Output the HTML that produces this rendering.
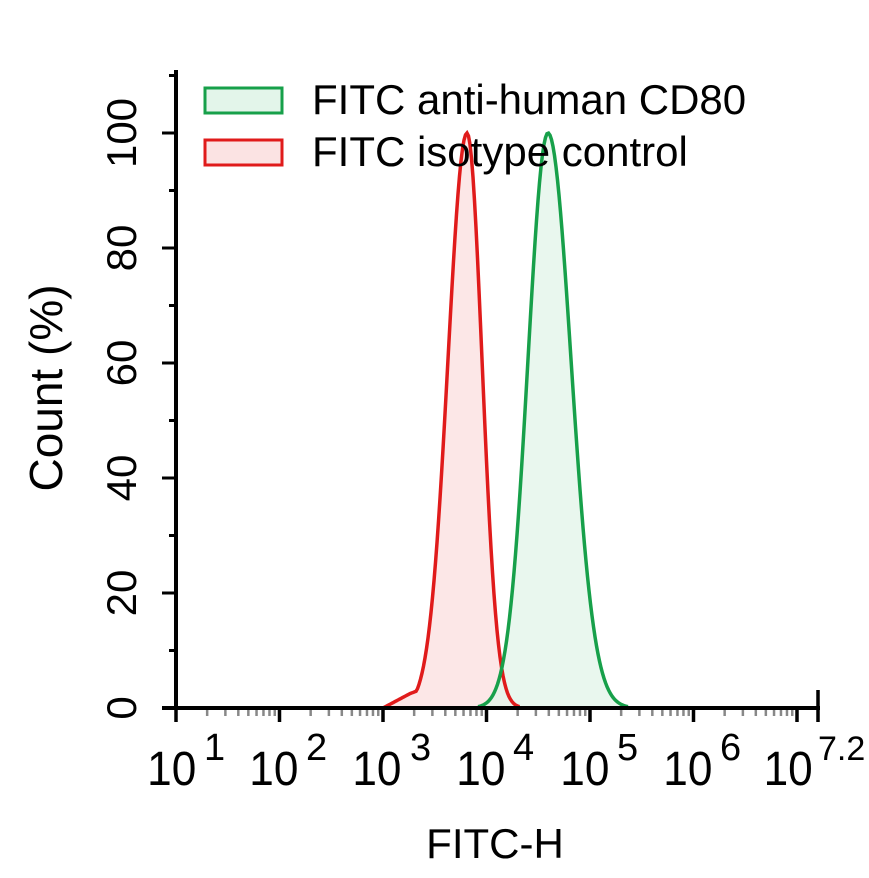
<!DOCTYPE html><html><head><style>body{margin:0;background:#fff}svg{display:block}text{font-family:"Liberation Sans",Arial,sans-serif;fill:#000}</style></head><body>
<svg id="s" width="869" height="878" xmlns="http://www.w3.org/2000/svg">
<g id="g"></g>
<path id="rf" fill="#fbe3e3" fill-opacity="0.85" stroke="none"/>
<path id="gf" fill="#e3f5ea" fill-opacity="0.8" stroke="none"/>
<path id="rl" fill="none" stroke="#e01b1b" stroke-width="3.5"/>
<path id="gl" fill="none" stroke="#17a04a" stroke-width="3.5"/>
<line x1="176" y1="70" x2="176" y2="710" stroke="#000" stroke-width="4"/>
<line x1="162" y1="708" x2="820" y2="708" stroke="#000" stroke-width="4"/>
<g font-size="42" text-anchor="middle">
<text transform="translate(136,133) rotate(-90)">100</text>
<text transform="translate(136,248) rotate(-90)">80</text>
<text transform="translate(136,363) rotate(-90)">60</text>
<text transform="translate(136,478) rotate(-90)">40</text>
<text transform="translate(136,593) rotate(-90)">20</text>
<text transform="translate(136,708) rotate(-90)">0</text>
<text transform="translate(62,388) rotate(-90)" font-size="46">Count  (%)</text>
<text x="495" y="858" font-size="42">FITC-H</text>
</g>
<g font-size="48" transform="translate(0,0)">
<g transform="scale(0.92,1)">
<text x="160" y="785">10</text><text x="271" y="785">10</text><text x="383" y="785">10</text><text x="496" y="785">10</text><text x="609" y="785">10</text><text x="721" y="785">10</text><text x="830" y="785">10</text>
</g>
<g font-size="38">
<text x="204" y="760">1</text><text x="306" y="760">2</text><text x="410" y="760">3</text><text x="513" y="760">4</text><text x="617" y="760">5</text><text x="720" y="760">6</text><text x="818" y="760" font-size="34">7.2</text>
</g>
</g>
<rect x="205" y="88" width="77" height="25" fill="#e3f5ea" stroke="#17a04a" stroke-width="3"/>
<rect x="205" y="140" width="77" height="25" fill="#fbe3e3" stroke="#e01b1b" stroke-width="3"/>
<g font-size="42"><text x="312" y="114">FITC anti-human CD80</text><text x="312" y="166">FITC isotype control</text></g>
</svg>
<script>
var g=document.getElementById('g'),h='';
function L(x1,y1,x2,y2,c,w){h+='<line x1="'+x1+'" y1="'+y1+'" x2="'+x2+'" y2="'+y2+'" stroke="'+c+'" stroke-width="'+w+'"/>';}
var d=103.5;
for(var i=0;i<=6;i++){var x=176+i*d;L(x,708,x,722,'#000',3.5);
 if(i<6)for(var k=2;k<10;k++){var xx=x+Math.log10(k)*d;L(xx,710,xx,716,'#888',2.5);}}
L(818,690,818,722,'#000',3.5);
for(var v=0;v<=110;v+=10){var y=708-v*5.75;L(v%20==0?162:169,y,176,y,'#000',3);}
g.innerHTML=h;
function curve(c,s1,s2,x0,x1,sh){var p=[];for(var x=x0;x<=x1;x+=1.5){var s=x<c?s1:s2;var v=100*Math.exp(-Math.pow(x-c,2)/(2*s*s));if(sh)v=Math.max(v,sh(x));p.push([x,708-v*5.75]);}return p;}
var r=curve(467,19,15,383,520,function(x){return x<410?(x-383)/27*2.5:(x<425?2.5+(x-410)/15*1:0);});
var gr=curve(548,20,23,478,628);
function P(p){return 'M'+p.map(function(a){return a[0].toFixed(1)+','+Math.min(708,a[1]).toFixed(1)}).join('L');}
document.getElementById('rl').setAttribute('d',P(r));
document.getElementById('gl').setAttribute('d',P(gr));
document.getElementById('rf').setAttribute('d',P(r)+'Z');
document.getElementById('gf').setAttribute('d',P(gr)+'Z');
</script>
</body></html>
